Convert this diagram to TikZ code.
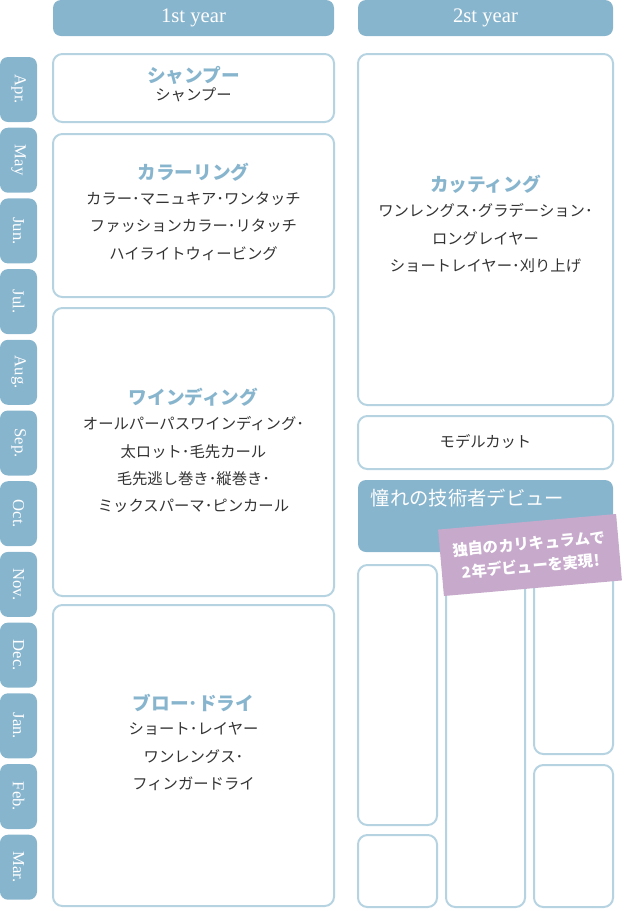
\documentclass[tikz,border=0pt]{standalone}
\usepackage{fontspec}
\setmainfont{Liberation Serif}
\newfontfamily\jp{Noto Sans CJK JP}
\usetikzlibrary{positioning}
\definecolor{tabblue}{HTML}{88B5CE}
\definecolor{edgeblue}{HTML}{B6D3E2}
\definecolor{badgepink}{HTML}{C6A9CB}
\definecolor{bodytext}{HTML}{333333}
\tikzset{
  tab/.style={fill=tabblue, rounded corners=6pt, draw=none},
  course/.style={draw=edgeblue, line width=1.5pt, fill=white, rounded corners=7pt},
  titletext/.style={text=tabblue, font=\jp\fontsize{14}{16}\selectfont\bfseries},
  bodytxt/.style={text=bodytext, font=\jp\fontsize{11.5}{20.5}\selectfont, align=center},
}
\begin{document}
\begin{tikzpicture}[x=0.75pt, y=-0.75pt]
  \useasboundingbox (0,0) rectangle (628,911);
  % year headers
  \fill[tab] (53,0) rectangle (334,36);
  \node[text=white, font=\fontsize{15.5}{17}\selectfont] (y1) at (193.5,18) {1st year};
  \fill[tab] (358,0) rectangle (613,36);
  \node[text=white, font=\fontsize{15.5}{17}\selectfont] (y2) at (485.5,18) {2st year};
  % month tabs
  \foreach \m [count=\i from 0] in {Apr.,May,Jun.,Jul.,Aug.,Sep.,Oct.,Nov.,Dec.,Jan.,Feb.,Mar.} {
    \fill[tab] (0,57+70.7*\i) rectangle (37,122+70.7*\i);
    \node[text=white, rotate=-90, font=\fontsize{12.5}{14}\selectfont] (m\i) at (18.5,89.5+70.7*\i) {\m};
  }
  % 1st year
  \draw[course] (53,54) rectangle (334,122);
  \node[titletext] (shampoo) at (193.5,75) {シャンプー};
  \node[bodytxt, below=-4pt of shampoo] (shampoot) {シャンプー};
  \draw[course] (53,134) rectangle (334,297);
  \node[titletext] (color) at (193.5,172) {カラーリング};
  \node[bodytxt, below=1pt of color] (colort) {カラー･マニュキア･ワンタッチ\\ファッションカラー･リタッチ\\ハイライトウィービング};
  \draw[course] (53,308) rectangle (334,596);
  \node[titletext] (wind) at (193.5,397) {ワインディング};
  \node[bodytxt, below=1pt of wind] (windt) {オールパーパスワインディング･\\太ロット･毛先カール\\毛先逃し巻き･縦巻き･\\ミックスパーマ･ピンカール};
  \draw[course] (53,605) rectangle (334,906);
  \node[titletext] (blow) at (193.5,703) {ブロー･ドライ};
  \node[bodytxt, below=1pt of blow] (blowt) {ショート･レイヤー\\ワンレングス･\\フィンガードライ};
  % 2nd year
  \draw[course] (358,54) rectangle (613,405);
  \node[titletext] (cut) at (485.5,184) {カッティング};
  \node[bodytxt, below=1pt of cut] (cutt) {ワンレングス･グラデーション･\\ロングレイヤー\\ショートレイヤー･刈り上げ};
  \draw[course] (358,416) rectangle (613,469);
  \node[bodytxt] (model) at (485.5,442) {モデルカット};
  \fill[tab] (358,480) rectangle (613,552);
  \node[text=white, font=\jp\fontsize{14.5}{16}\selectfont, anchor=west] (debut) at (366,498) {憧れの技術者デビュー};
  \draw[course] (358,565) rectangle (437,825);
  \draw[course] (358,835) rectangle (437,907);
  \draw[course] (446,565) rectangle (525,907);
  \draw[course] (534,565) rectangle (613,754);
  \draw[course] (534,765) rectangle (613,907);
  % badge
  \node[fill=badgepink, rotate=5, minimum width=134pt, minimum height=50pt, inner sep=2pt,
        text=white, align=center, font=\jp\fontsize{11.5}{17}\selectfont\bfseries] (badge) at (530,555)
        {独自のカリキュラムで\\2年デビューを実現!};
\end{tikzpicture}
\end{document}
